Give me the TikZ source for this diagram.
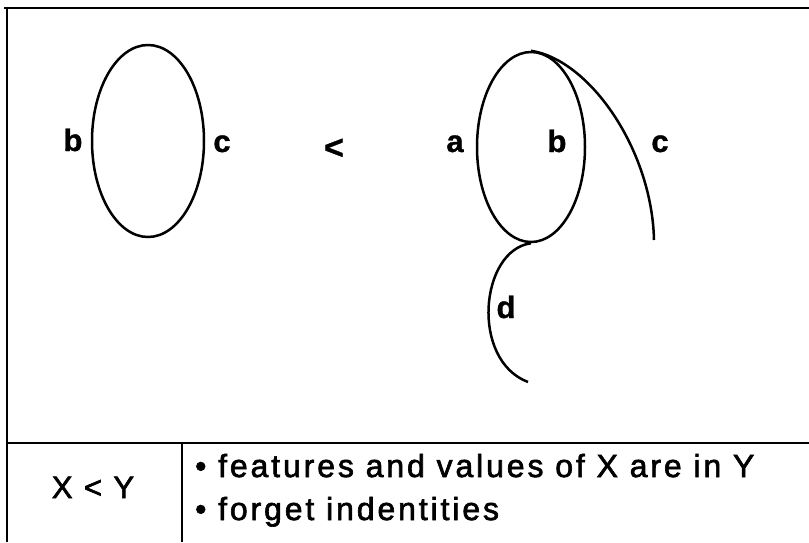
\documentclass[tikz,border=0pt]{standalone}
\usepackage{fontspec}
\setmainfont{Liberation Sans}
\newfontfamily\spaced[LetterSpace=9,FakeBold=2]{Liberation Sans}
\newfontfamily\lblfont[FakeBold=1]{Liberation Sans Bold}
\usetikzlibrary{shapes.geometric}
\begin{document}
\begin{tikzpicture}[x=1pt,y=-1pt,
  frame/.style={line width=2.4pt},
  curve/.style={line width=2.5pt},
  oval/.style={ellipse,draw,line width=2.5pt,inner sep=0pt},
  lbl/.style={anchor=base,inner sep=0pt,font=\lblfont\fontsize{31}{33}\selectfont},
  body/.style={anchor=base west,inner sep=0pt,font=\spaced\fontsize{32}{34}\selectfont}]
\useasboundingbox (0,0) rectangle (809,542);
% frame
\coordinate (tl) at (7,8);
\coordinate (tr) at (809,8);
\coordinate (bl) at (7,542);
\coordinate (ml) at (7,443);
\coordinate (mr) at (809,443);
\coordinate (vt) at (182,443);
\coordinate (vb) at (182,542);
\draw[frame] (4,8) -- (tr);
\draw[frame] (tl) -- (bl);
\draw[frame] (ml) -- (mr);
\draw[frame] (vt) -- (vb);
% left figure
\node[oval,minimum width=112pt,minimum height=192pt] (E1) at (148,141) {};
\node[lbl] (lb) at (73,151) {b};
\node[lbl] (lc) at (222,152) {c};
\node[lbl,font=\lblfont\fontsize{34}{36}\selectfont] (lt) at (334,159) {<};
% right figure
\node[oval,minimum width=108pt,minimum height=190pt] (E2) at (531,147) {};
\coordinate (cend) at (654,240);
\coordinate (dend) at (528,382);
\draw[curve] (E2.north) .. controls (590,60) and (652,150) .. (cend);
\draw[curve] (E2.south) .. controls (480,250) and (470,360) .. (dend);
\node[lbl] (ra) at (455,152) {a};
\node[lbl] (rb) at (557,152) {b};
\node[lbl] (rc) at (660,152) {c};
\node[lbl] (rd) at (506,318) {d};
% bottom
\node[anchor=base,inner sep=0pt,font=\spaced\fontsize{31}{33}\selectfont] (xy) at (93,498) {X < Y};
\node[body] (t1) at (195,477) {• features and values of X are in Y};
\node[body] (t2) at (195,520) {• forget indentities};
\end{tikzpicture}
\end{document}
